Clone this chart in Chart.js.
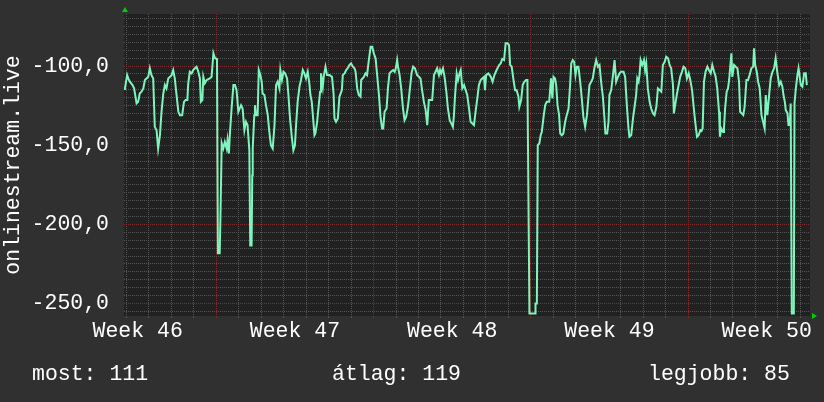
<!DOCTYPE html>
<html>
<head>
<meta charset="utf-8">
<script src="https://cdn.jsdelivr.net/npm/chart.js@4/dist/chart.umd.min.js"></script>
<style>
  html, body { margin: 0; padding: 0; background: #303030; }
  #wrap { position: relative; width: 824px; height: 402px; overflow: hidden; }
  canvas { position: absolute; left: 0; top: 0; }
  .stat { position: absolute; top: 364px; font-family: 'Liberation Mono', monospace; font-size: 21.5px; line-height: 1; color: #ffffff; white-space: pre; }
</style>
</head>
<body>
<div id="wrap">
  <canvas id="c" width="824" height="402"></canvas>
  <div class="stat" id="s1" style="left:32px">most: 111</div>
  <div class="stat" id="s2" style="left:332px">átlag: 119</div>
  <div class="stat" id="s3" style="left:648px">legjobb: 85</div>
</div>
<script>
// ---- data (x in days, week 47 starts at day 7) ----
const days = [2.92,3.03,3.08,3.15,3.27,3.34,3.45,3.52,3.59,3.67,
3.75,3.82,3.97,4.04,4.11,4.19,4.26,4.34,4.41,4.49,
4.56,4.64,4.71,4.78,4.86,5.01,5.08,5.15,5.23,5.31,
5.38,5.48,5.56,5.63,5.71,5.75,5.82,5.90,5.97,6.05,
6.12,6.20,6.27,6.31,6.38,6.42,6.49,6.57,6.71,6.79,
6.87,6.94,7.03,7.07,7.15,7.18,7.24,7.31,7.38,7.46,
7.50,7.56,7.61,7.68,7.76,7.83,7.90,7.98,8.10,8.17,
8.25,8.32,8.39,8.47,8.51,8.57,8.60,8.62,8.69,8.72,
8.77,8.84,8.89,8.96,9.02,9.06,9.14,9.21,9.29,9.36,
9.43,9.51,9.59,9.66,9.73,9.81,9.85,9.92,9.99,10.06,
10.15,10.21,10.28,10.36,10.43,10.50,10.55,10.62,10.70,10.77,
10.85,10.92,10.99,11.07,11.15,11.19,11.25,11.31,11.37,11.41,
11.48,11.56,11.62,11.66,11.74,11.78,11.86,11.93,12.04,12.15,
12.22,12.26,12.33,12.41,12.48,12.59,12.63,12.71,12.78,12.85,
12.93,13.00,13.08,13.15,13.20,13.27,13.34,13.42,13.45,13.57,
13.64,13.71,13.79,13.87,13.94,14.01,14.09,14.16,14.24,14.31,
14.38,14.43,14.49,14.58,14.64,14.71,14.78,14.87,14.94,14.99,
15.05,15.10,15.16,15.23,15.31,15.38,15.45,15.53,15.62,15.69,
15.76,15.84,15.94,16.02,16.09,16.17,16.24,16.32,16.39,16.46,
16.61,16.69,16.76,16.83,16.91,16.96,17.01,17.09,17.16,17.24,
17.31,17.39,17.46,17.53,17.58,17.62,17.70,17.76,17.83,17.88,
17.95,18.03,18.10,18.17,18.25,18.32,
18.47,18.55,18.62,18.69,18.77,18.84,18.92,18.96,19.01,19.11,
19.22,19.30,19.38,19.48,19.59,19.66,19.73,19.81,19.88,19.96,
20.03,20.08,20.15,20.22,20.30,20.37,20.45,20.49,20.57,20.64,
20.71,20.79,20.85,20.94,21.19,21.21,21.27,21.31,21.38,21.44,
21.49,21.56,21.64,21.71,21.82,21.86,21.90,21.96,22.01,22.08,
22.13,22.19,22.26,22.31,22.38,22.45,22.53,22.60,22.68,22.75,
22.80,22.87,22.93,22.99,23.05,23.12,23.20,23.27,23.34,23.42,
23.50,23.61,23.69,23.76,23.83,23.91,23.99,24.06,24.13,24.21,
24.28,24.32,24.40,24.46,24.50,24.58,24.65,24.73,24.80,24.88,
24.95,25.02,25.13,25.20,25.28,25.35,25.39,25.47,25.55,25.62,
25.69,25.74,25.80,25.84,25.89,25.96,26.04,26.09,26.14,26.21,
26.29,26.36,26.44,26.51,26.59,26.66,26.81,26.88,26.96,27.03,
27.11,27.18,27.25,27.33,27.37,27.45,27.51,27.58,27.65,27.73,
27.80,27.88,27.95,28.03,28.10,28.18,28.25,28.32,28.40,28.47,
28.55,28.60,28.65,28.71,28.78,28.86,28.93,29.01,29.08,29.16,
29.23,29.30,29.38,29.42,29.48,29.56,29.60,29.65,29.72,29.78,
29.83,29.88,29.93,29.97,30.05,30.12,30.20,30.27,30.32,30.39,
30.46,30.52,30.60,30.67,30.74,30.82,30.90,30.94,30.99,31.06,
31.12,31.19,31.27,31.34,31.41,31.46,31.53,31.61,31.68,31.76,
31.83,31.90,31.98,32.06,32.13,32.20,32.25,32.31,32.35,32.43,
32.47,32.53,32.57,32.62,32.71,32.74,32.80,32.87,32.92,32.98,
33.02,33.09,33.17,33.24,33.29];

const values = [-115.2,-105.7,-107.8,-109.9,-112.0,-114.1,-123.6,-122.6,-117.3,-116.2,
-114.1,-108.8,-106.8,-101.4,-105.7,-107.8,-138.4,-140.5,-152.1,-143.7,
-128.9,-117.3,-112.0,-114.1,-107.8,-105.7,-102.5,-107.8,-118.3,-128.9,
-131.0,-131.0,-122.6,-121.5,-121.5,-110.9,-103.6,-104.6,-102.5,-101.4,
-100.4,-103.6,-107.8,-122.6,-121.5,-106.8,-110.9,-108.8,-107.8,-106.8,
-91.9,-95.1,-95.5,-218.3,-218.3,-198.1,-148.7,-152.1,-147.9,-152.1,
-146.8,-155.2,-141.6,-126.8,-112.0,-112.0,-115.2,-128.9,-124.7,-126.8,
-140.5,-135.2,-137.3,-153.2,-213.3,-213.3,-169.0,-152.1,-131.0,-124.7,
-131.0,-131.0,-102.5,-105.7,-109.9,-117.3,-118.3,-124.7,-131.0,-141.6,
-150.0,-152.1,-137.3,-112.0,-109.9,-114.1,-102.5,-108.8,-103.6,-104.6,
-107.8,-118.3,-133.1,-144.7,-153.2,-150.0,-137.3,-122.6,-113.1,-108.8,
-102.5,-104.6,-107.8,-103.6,-112.0,-118.3,-122.6,-133.1,-143.7,-142.6,
-136.2,-124.7,-116.2,-104.6,-113.1,-106.8,-100.4,-105.7,-105.7,-106.8,
-117.3,-133.1,-135.2,-133.1,-119.4,-115.2,-105.7,-104.6,-102.5,-101.4,
-99.3,-98.3,-100.4,-101.4,-103.6,-114.1,-118.3,-119.4,-108.8,-106.8,
-104.6,-105.7,-96.2,-87.8,-87.8,-91.9,-95.1,-105.7,-118.3,-132.1,
-139.4,-139.4,-128.9,-126.8,-114.1,-104.6,-103.6,-102.5,-103.6,-101.4,
-96.2,-101.4,-105.7,-114.1,-126.8,-134.2,-132.1,-125.7,-114.1,-104.6,
-100.4,-101.4,-105.7,-106.8,-107.8,-116.2,-122.6,-127.8,-137.3,-121.5,
-121.5,-105.7,-103.6,-101.4,-105.7,-102.5,-104.6,-101.4,-106.8,-116.2,
-126.8,-134.2,-136.2,-138.4,-131.0,-120.4,-104.6,-108.8,-104.6,-102.5,
-114.1,-112.0,-115.2,-118.3,-126.8,-135.2,
-137.3,-127.8,-120.4,-112.0,-108.8,-107.8,-106.8,-115.2,-105.7,-104.6,
-106.8,-109.9,-105.7,-102.5,-99.3,-98.3,-95.5,-96.2,-85.6,-85.6,
-86.7,-99.3,-100.4,-107.8,-115.2,-115.2,-119.4,-125.7,-121.5,-112.0,
-109.9,-108.8,-108.8,-256.3,-256.3,-250.0,-250.0,-150.0,-148.9,-143.7,
-141.6,-133.1,-124.7,-122.6,-122.6,-115.2,-107.8,-120.4,-106.8,-107.8,
-112.0,-124.7,-131.0,-142.6,-143.7,-142.6,-135.2,-131.0,-126.8,-112.0,
-98.3,-96.2,-97.3,-105.7,-100.4,-100.4,-109.9,-120.4,-132.1,-138.4,
-131.0,-112.0,-109.9,-107.8,-101.4,-96.2,-100.4,-99.3,-109.9,-119.4,
-133.1,-142.6,-142.6,-135.2,-118.3,-115.2,-106.8,-96.2,-109.9,-106.8,
-104.6,-103.6,-103.6,-106.8,-125.7,-139.4,-144.7,-143.7,-133.1,-125.7,
-118.3,-107.8,-109.9,-105.7,-96.2,-99.3,-96.2,-102.5,-98.3,-114.1,
-122.6,-126.8,-129.9,-131.0,-125.7,-114.1,-116.2,-99.3,-97.3,-94.1,
-95.1,-99.3,-101.4,-112.0,-129.9,-122.6,-117.3,-112.0,-106.8,-103.6,
-100.4,-101.4,-107.8,-104.6,-108.8,-115.2,-125.7,-135.2,-144.7,-143.7,
-140.5,-141.0,-139.4,-109.9,-103.6,-100.4,-102.5,-104.6,-99.3,-103.6,
-106.8,-114.1,-128.9,-144.7,-139.4,-141.6,-139.4,-126.8,-116.2,-114.1,
-108.8,-100.4,-91.9,-106.8,-99.3,-100.4,-101.4,-109.9,-128.9,-129.9,
-131.0,-125.7,-108.8,-108.8,-105.7,-101.4,-100.4,-88.8,-99.3,-103.6,
-109.9,-114.1,-131.0,-135.2,-139.4,-118.3,-131.0,-118.3,-107.8,-103.6,
-101.4,-95.1,-104.6,-112.0,-109.9,-113.1,-118.3,-122.6,-127.8,-129.9,
-137.3,-137.3,-123.6,-256.3,-256.3,-123.6,-114.1,-105.7,-101.4,-107.8,
-112.0,-113.1,-104.6,-104.6,-112.0];

const weekCenters = [3.5, 10.5, 17.5, 24.5, 31.5];
const weekLabels = ['Week 46', 'Week 47', 'Week 48', 'Week 49', 'Week 50'];
const dayTicks = [];
for (let d = 3; d <= 33; d++) dayTicks.push(d);
const yTicks = [];
for (let v = -255; v <= -70; v += 5) yTicks.push(v);

const X_MIN = 2.89, X_MAX = 33.43;
const Y_MIN = -257.9, Y_MAX = -67.1;
const TITLE = 'onlinestream.live';

// ---- styling ----
const FONT = { family: "'Liberation Mono', monospace", size: 21.5 };
const GRID_GRAY = 'rgba(85,85,85,1)';
const GRID_RED = 'rgba(125,45,45,1)';
const LINE = '#7ef5bd';

const n = Math.min(days.length, values.length);
const points = [];
for (let i = 0; i < n; i++) points.push({ x: days[i], y: values[i] });

const deco = {
  id: 'deco',
  beforeDraw(chart) {
    const { ctx, chartArea: a } = chart;
    ctx.save();
    ctx.fillStyle = '#303030';
    ctx.fillRect(0, 0, chart.width, chart.height);
    ctx.fillStyle = '#212121';
    ctx.fillRect(a.left, a.top, a.right - a.left, a.bottom - a.top);
    ctx.restore();
  },
  afterDraw(chart) {
    const { ctx, chartArea: a } = chart;
    ctx.save();
    ctx.fillStyle = '#00d000';
    let x = a.left + 1, y = a.top - 3;
    ctx.beginPath(); ctx.moveTo(x - 3, y + 1); ctx.lineTo(x + 3, y + 1); ctx.lineTo(x, y - 4); ctx.closePath(); ctx.fill();
    x = a.right + 2; y = a.bottom;
    ctx.beginPath(); ctx.moveTo(x, y - 3); ctx.lineTo(x, y + 3); ctx.lineTo(x + 5, y); ctx.closePath(); ctx.fill();
    ctx.restore();
  }
};

new Chart(document.getElementById('c'), {
  type: 'line',
  data: {
    datasets: [{
      data: points,
      borderColor: LINE,
      borderWidth: 2,
      pointRadius: 0,
      tension: 0,
      fill: false
    }]
  },
  options: {
    responsive: false,
    animation: false,
    devicePixelRatio: 1,
    layout: { padding: { top: 14, right: 14, bottom: 0, left: 0 } },
    plugins: { legend: { display: false }, tooltip: { enabled: false } },
    scales: {
      x: {
        type: 'linear', position: 'bottom', weight: 0,
        min: X_MIN, max: X_MAX,
        afterBuildTicks: s => { s.ticks = dayTicks.map(v => ({ value: v })); },
        afterFit: s => { s.height = 0; s.paddingLeft = 0; s.paddingRight = 0; },
        ticks: { display: false, autoSkip: false },
        grid: {
          color: c => (c.tick && c.tick.value % 7 === 0) ? GRID_RED : GRID_GRAY,
          lineWidth: 1, drawTicks: true, tickLength: 2
        },
        border: { display: false, dash: [1, 1] }
      },
      x2: {
        type: 'linear', position: 'bottom', weight: 1,
        min: X_MIN, max: X_MAX,
        afterBuildTicks: s => { s.ticks = weekCenters.map(v => ({ value: v })); },
        afterFit: s => { s.height = 86; s.paddingLeft = 0; s.paddingRight = 0; },
        grid: { display: false, drawTicks: false },
        border: { display: false },
        ticks: {
          autoSkip: false, maxRotation: 0, minRotation: 0, padding: 2,
          color: '#ffffff', font: FONT,
          callback: (v, i) => weekLabels[i]
        }
      },
      y: {
        type: 'linear', position: 'left',
        min: Y_MIN, max: Y_MAX,
        afterBuildTicks: s => { s.ticks = yTicks.map(v => ({ value: v })); },
        afterFit: s => { s.width = 124; s.paddingTop = 0; s.paddingBottom = 0; },
        grid: {
          color: c => (c.tick && c.tick.value % 50 === 0) ? GRID_RED : GRID_GRAY,
          lineWidth: 1, drawTicks: false
        },
        border: { display: false, dash: [1, 1] },
        ticks: {
          autoSkip: false, padding: 15, color: '#ffffff', font: FONT,
          callback: v => (v % 50 === 0) ? v.toFixed(1).replace('.', ',') : ''
        },
        title: { display: true, text: TITLE, color: '#ffffff', font: FONT, padding: 0 }
      }
    }
  },
  plugins: [deco]
});
</script>
</body>
</html>
